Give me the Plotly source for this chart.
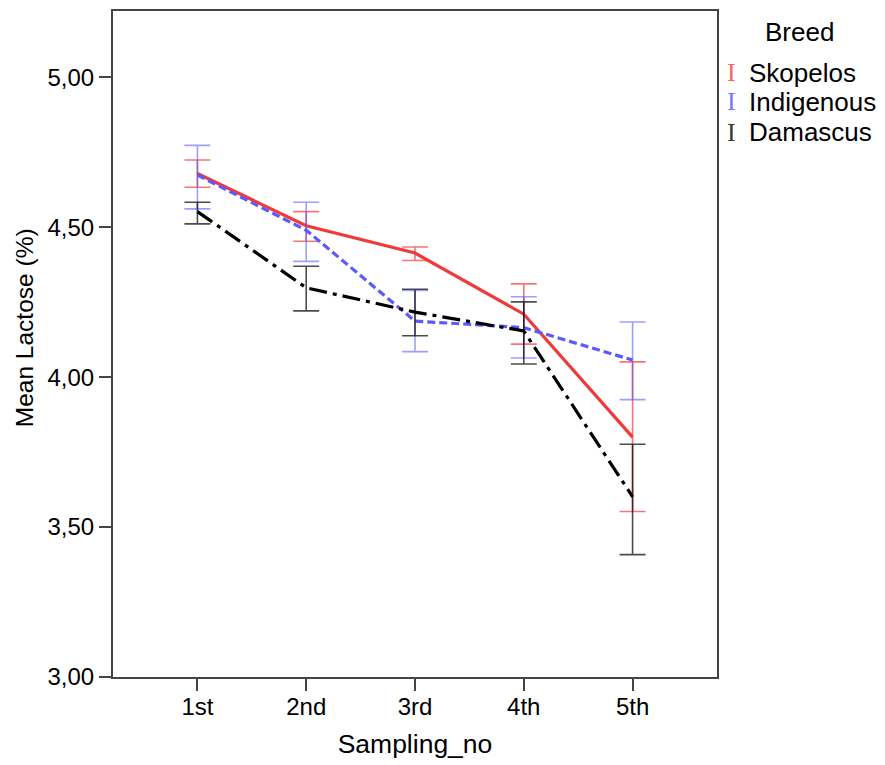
import plotly.graph_objects as go

# Mean lactose (%) per sampling, with error bar ends
samplings = ["1st", "2nd", "3rd", "4th", "5th"]
breeds = ["Skopelos", "Indigenous", "Damascus"]

skopelos_mean = [4.679, 4.505, 4.414, 4.210, 3.800]
skopelos_hi = [4.724, 4.552, 4.434, 4.311, 4.051]
skopelos_lo = [4.633, 4.453, 4.389, 4.110, 3.552]

indigenous_mean = [4.674, 4.490, 4.187, 4.165, 4.057]
indigenous_hi = [4.773, 4.583, 4.289, 4.268, 4.184]
indigenous_lo = [4.561, 4.386, 4.085, 4.064, 3.925]

damascus_mean = [4.552, 4.298, 4.217, 4.154, 3.601]
damascus_hi = [4.583, 4.370, 4.293, 4.251, 3.776]
damascus_lo = [4.511, 4.221, 4.138, 4.044, 3.408]

series = [
    (skopelos_mean, skopelos_hi, skopelos_lo, "#f03a3a", "rgba(240,60,60,0.7)", "solid"),
    (indigenous_mean, indigenous_hi, indigenous_lo, "#5a5aff", "rgba(80,80,255,0.55)", "8px,4px"),
    (damascus_mean, damascus_hi, damascus_lo, "#000000", "rgba(0,0,0,0.7)", "18px,6px,4px,6px"),
]

FONT = "Liberation Sans, Arial, sans-serif"

fig = go.Figure()

for name, (mean, hi, lo, col, ecol, dash) in zip(breeds, series):
    fig.add_trace(
        go.Scatter(
            x=samplings,
            y=mean,
            name=name,
            mode="lines",
            line=dict(color=col, width=3.2, dash=dash),
            error_y=dict(
                type="data",
                symmetric=False,
                array=[h - m for h, m in zip(hi, mean)],
                arrayminus=[m - l for m, l in zip(mean, lo)],
                color=ecol,
                thickness=1.6,
                width=13,
            ),
            showlegend=False,
        )
    )

# legend drawn by hand so the keys look like little error bars
fig.add_annotation(
    x=1.136, y=0.968, xref="paper", yref="paper", text="Breed",
    xanchor="center", yanchor="middle",
    showarrow=False, font=dict(size=26, color="black", family=FONT),
)
legend_y = [0.907, 0.864, 0.818]
legend_col = ["rgba(240,60,60,0.8)", "rgba(80,80,255,0.8)", "rgba(0,0,0,0.8)"]
for name, col, ly in zip(breeds, legend_col, legend_y):
    fig.add_annotation(
        x=1.024, y=ly, xref="paper", yref="paper", text="I",
        xanchor="center", yanchor="middle",
        showarrow=False, font=dict(size=26, color=col, family="Liberation Serif"),
    )
    fig.add_annotation(
        x=1.050, y=ly, xref="paper", yref="paper", text=name,
        xanchor="left", yanchor="middle",
        showarrow=False, font=dict(size=26, color="black", family=FONT),
    )

# y title as an annotation: in the reference it sits a bit above the middle
fig.add_annotation(
    x=-0.147, y=0.524, xref="paper", yref="paper", text="Mean Lactose (%)",
    textangle=-90, xanchor="center", yanchor="middle",
    showarrow=False, font=dict(size=24.5, color="black", family=FONT),
)

fig.update_xaxes(
    title=dict(text="Sampling_no", font=dict(size=26.5, color="black", family=FONT), standoff=16),
    range=[-0.776, 4.776],
    showline=True, linecolor="#444", linewidth=2, mirror=True,
    ticks="outside", ticklen=12, tickwidth=2, tickcolor="#444",
    ticklabelstandoff=-5,
    showgrid=False, zeroline=False,
    tickfont=dict(size=24, color="black", family=FONT),
)
fig.update_yaxes(
    range=[3.0, 5.221],
    tickvals=[3.0, 3.5, 4.0, 4.5, 5.0],
    tickformat=".2f",
    showline=True, linecolor="#444", linewidth=2, mirror=True,
    ticks="outside", ticklen=12, tickwidth=2, tickcolor="#444",
    showgrid=False, zeroline=False,
    tickfont=dict(size=24, color="black", family=FONT),
)

fig.update_layout(
    width=885, height=765,
    margin=dict(l=105, r=176, t=1, b=96),
    paper_bgcolor="white", plot_bgcolor="white",
    separators=", ",
    font=dict(family=FONT, color="black"),
)

fig.write_html("out.html")
